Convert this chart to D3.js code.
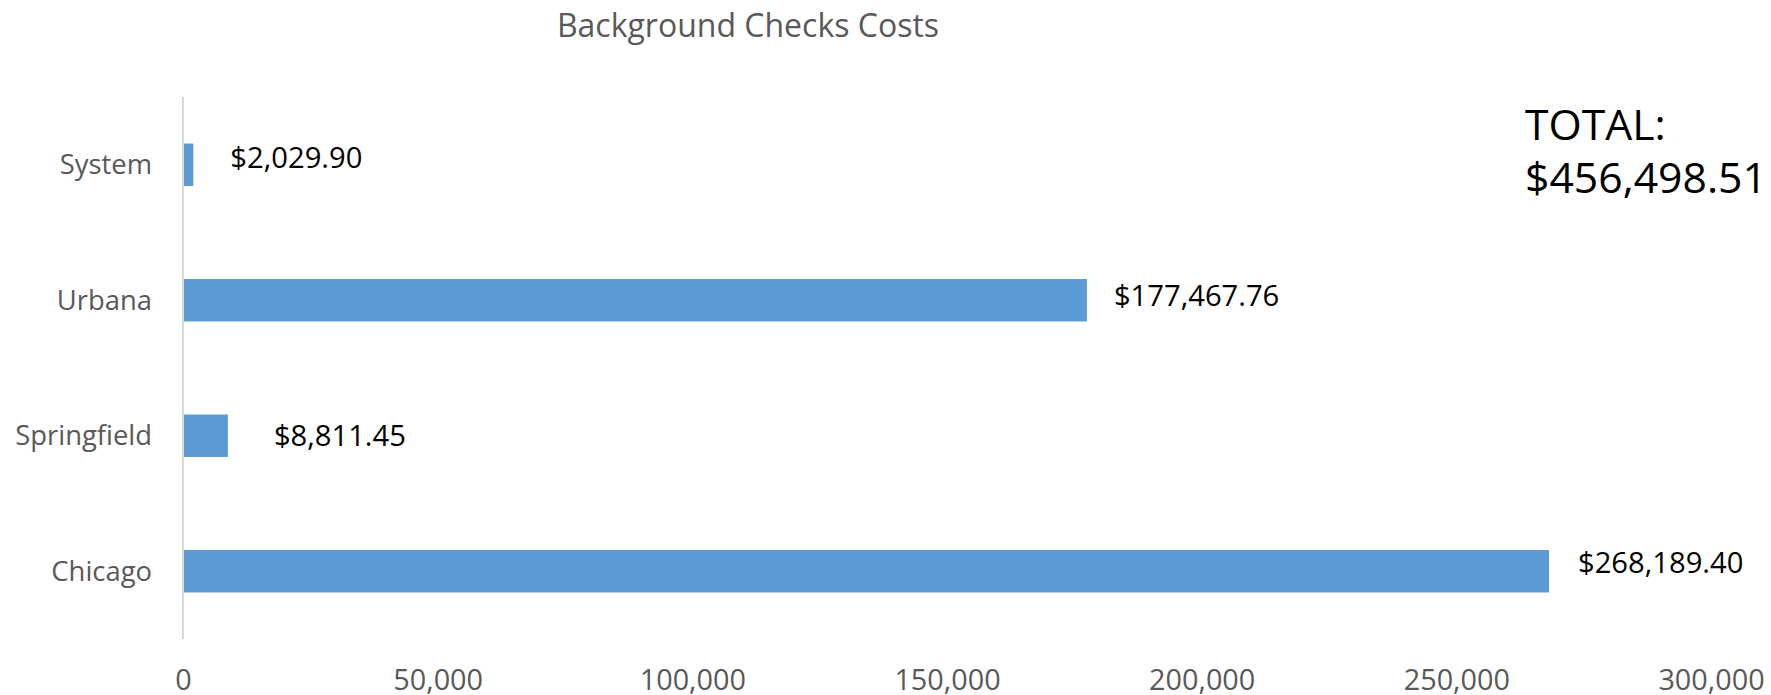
<!DOCTYPE html>
<html>
<head>
<meta charset="utf-8">
<script src="https://cdn.jsdelivr.net/npm/d3@7"></script>
<style>
  html, body { margin: 0; padding: 0; background: #fff; }
  svg { display: block; font-family: "Open Sans", "Noto Sans", sans-serif; }
</style>
</head>
<body>
<svg id="chart" width="1771" height="695"></svg>
<script>
// Campus background check spending (top to bottom as drawn)
const categories = ["System", "Urbana", "Springfield", "Chicago"];
const costs = [2029.90, 177467.76, 8811.45, 268189.40];
const xTicks = [0, 50000, 100000, 150000, 200000, 250000, 300000];
const chartTitle = "Background Checks Costs";
const totalLines = ["TOTAL:", "$456,498.51"];

// Hand-placed data-label nudges (dx from bar end, dy from bar centre to baseline)
const labelNudge = {
  System:      { dx: 37, dy: 3.6 },
  Urbana:      { dx: 27, dy: 6.2 },
  Springfield: { dx: 46, dy: 10.5 },
  Chicago:     { dx: 29, dy: 1.6 }
};

const svg = d3.select("#chart");
const plot = { left: 183, right: 1711, top: 97, bottom: 639 };

const x = d3.scaleLinear().domain([0, 300000]).range([plot.left, plot.right]);
const y = d3.scaleBand().domain(categories).range([plot.top, plot.bottom]).paddingInner(0.687).paddingOuter(0.3435);

const money = d3.format("$,.2f");

// Title
svg.append("text")
  .attr("x", 748).attr("y", 36.5)
  .attr("text-anchor", "middle")
  .attr("font-size", 32).attr("fill", "#595959")
  .text(chartTitle);

// Bars
svg.append("g").selectAll("rect")
  .data(categories.map((c, i) => ({ c, v: costs[i] })))
  .join("rect")
  .attr("x", x(0))
  .attr("y", d => y(d.c))
  .attr("width", d => x(d.v) - x(0))
  .attr("height", y.bandwidth())
  .attr("fill", "#5B9BD5");

// Vertical category axis line
svg.append("line")
  .attr("x1", x(0)).attr("x2", x(0))
  .attr("y1", plot.top).attr("y2", plot.bottom)
  .attr("stroke", "#d9d9d9").attr("stroke-width", 2);

// Category labels
svg.append("g").selectAll("text")
  .data(categories)
  .join("text")
  .attr("x", 152)
  .attr("y", d => y(d) + y.bandwidth() / 2 + 9.5)
  .attr("text-anchor", "end")
  .attr("font-size", 27.4).attr("fill", "#595959")
  .text(d => d);

// Value axis tick labels
const xAxis = d3.axisBottom(x).tickValues(xTicks).tickFormat(d3.format(",")).tickSize(0).tickPadding(0);
const ax = svg.append("g").attr("transform", `translate(0, ${plot.bottom})`).call(xAxis);
ax.select(".domain").remove();
ax.selectAll("text")
  .attr("font-size", 28.8)
  .attr("font-family", "Open Sans, Noto Sans, sans-serif")
  .attr("fill", "#595959")
  .attr("dy", null)
  .attr("y", 51);

// Data labels
svg.append("g").selectAll("text")
  .data(categories.map((c, i) => ({ c, v: costs[i] })))
  .join("text")
  .attr("x", d => x(d.v) + labelNudge[d.c].dx)
  .attr("y", d => y(d.c) + y.bandwidth() / 2 + labelNudge[d.c].dy)
  .attr("font-size", 29.2).attr("fill", "#000")
  .text(d => money(d.v));

// Total annotation
svg.append("text")
  .attr("x", 1525).attr("y", 140)
  .attr("font-size", 42.7).attr("fill", "#000")
  .selectAll("tspan")
  .data(totalLines)
  .join("tspan")
  .attr("x", 1525)
  .attr("dy", (d, i) => i === 0 ? 0 : 53)
  .text(d => d);
</script>
</body>
</html>
